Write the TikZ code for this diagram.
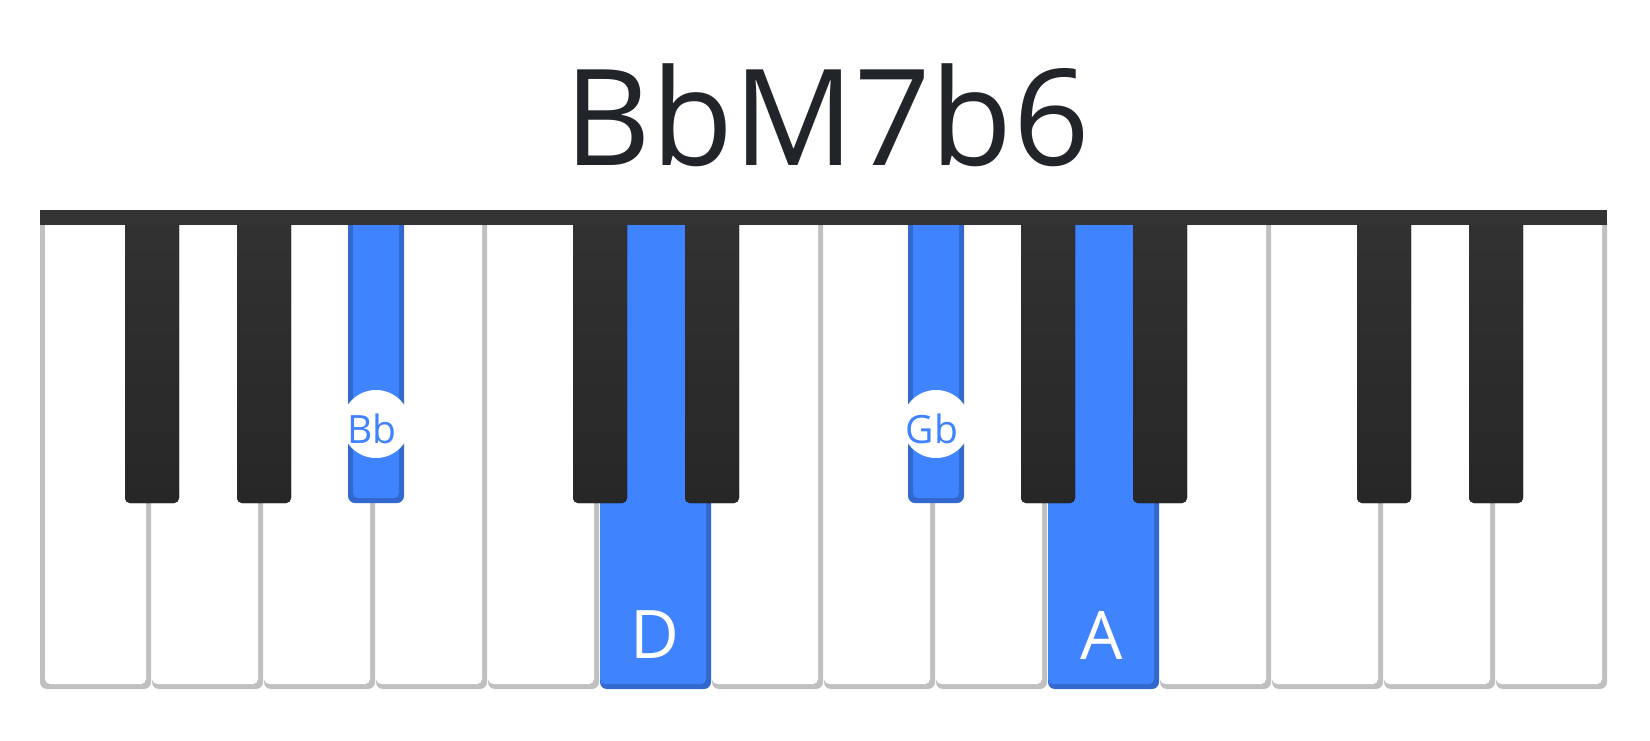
\documentclass[tikz,border=0pt]{standalone}
\usepackage{fontspec}
\setmainfont{Open Sans}
\usetikzlibrary{positioning}
\definecolor{bar}{RGB}{51,51,51}
\definecolor{ink}{RGB}{33,37,41}
\definecolor{keyline}{RGB}{192,192,192}
\definecolor{hilite}{RGB}{64,131,255}
\definecolor{hiliteedge}{RGB}{51,104,204}
\definecolor{ebonytop}{RGB}{50,50,50}
\definecolor{ebonybot}{RGB}{39,39,39}

\begin{document}
\begin{tikzpicture}[
    x=1pt, y=-1pt,
    wrim/.style={fill=keyline, rounded corners=7pt},
    wface/.style={fill=white, rounded corners=5pt},
    hrim/.style={fill=hiliteedge, rounded corners=7pt},
    hface/.style={fill=hilite, rounded corners=5pt},
    bface/.style={top color=ebonytop, bottom color=ebonybot, rounded corners=5pt},
    title/.style={font=\fontsize{134}{134}\selectfont, text=ink, anchor=base, inner sep=0pt},
    wlabel/.style={font=\fontsize{67}{67}\selectfont, text=white, anchor=base, inner sep=0pt},
    blabel/.style={font=\fontsize{39}{39}\selectfont, text=hilite, anchor=base, inner sep=0pt},
]
\useasboundingbox[fill=white] (0,0) rectangle (1650,740);

% chord name
\node[title] (name) at (827,165) {BbM7b6};

% white keys, F to E twice
\foreach \i in {0,...,13} {
  \pgfmathsetmacro\xa{40+112*\i}
  \pgfmathsetmacro\lb{ifthenelse(\i==0,5,0)}
  \ifnum\i=5 \def\rim{hrim}\def\face{hface}
  \else\ifnum\i=9 \def\rim{hrim}\def\face{hface}
  \else \def\rim{wrim}\def\face{wface}\fi\fi
  \fill[\rim] (\xa,212) rectangle ++(111,477);
  \fill[\face] (\xa+\lb,212) rectangle (\xa+106,684);
}

% black keys, sitting on the white key boundaries
\foreach \b in {1,2,5,6,9,10,12,13} {
  \pgfmathsetmacro\xc{40+112*\b}
  \fill[bface] (\xc-27,212) rectangle (\xc+27,503);
}
\foreach \b in {3,8} {
  \pgfmathsetmacro\xc{40+112*\b}
  \fill[hrim] (\xc-28,212) rectangle (\xc+28,503);
  \fill[hface] (\xc-23,212) rectangle (\xc+23,498);
  \begin{scope}
    \clip (\xc-31,380) rectangle (\xc+29,470);
    \fill[white] (\xc,424) circle (34);
  \end{scope}
}

% top felt bar
\fill[bar] (40,210) rectangle (1607,225);

% note names
\node[blabel] (bb) at (372,443) {Bb};
\node[blabel] (gb) at (932,443) {Gb};
\node[wlabel] (d) at (655,658) {D};
\node[wlabel] (a) at (1102,659) {A};

\end{tikzpicture}
\end{document}
